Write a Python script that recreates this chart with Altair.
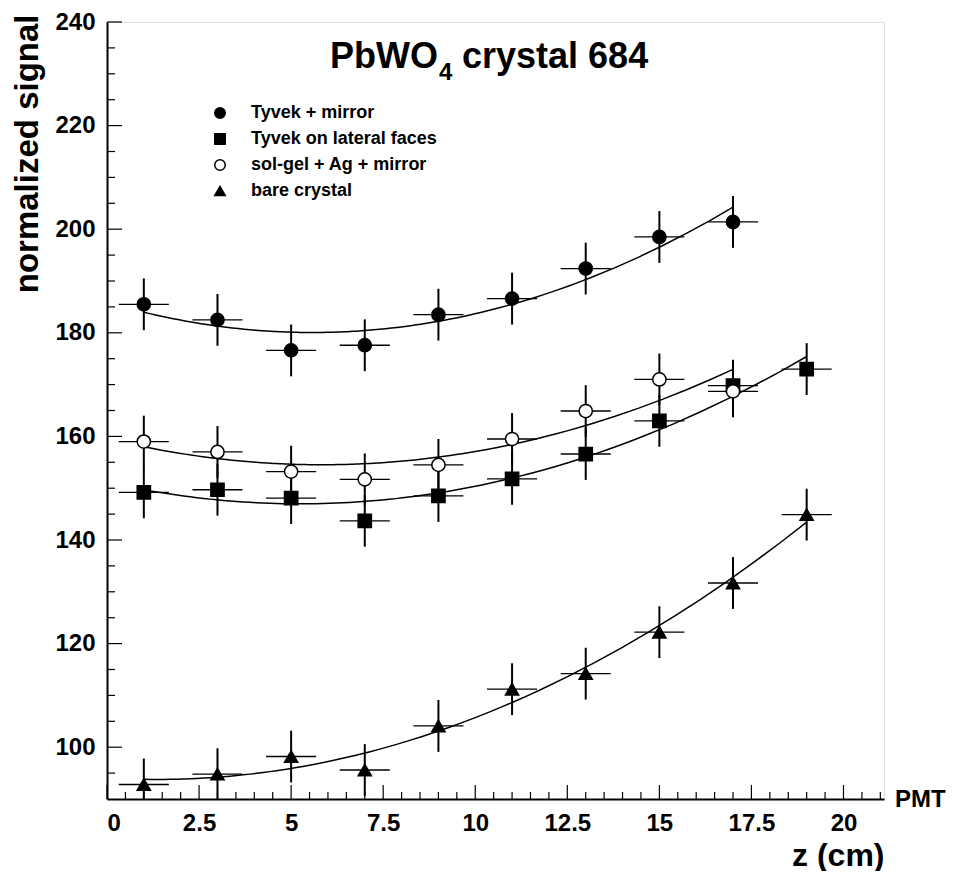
import altair as alt
import pandas as pd

# ---------------- data ----------------
SERIES = ["Tyvek + mirror", "Tyvek on lateral faces", "sol-gel + Ag + mirror", "bare crystal"]
SHAPES = ["circle", "square", "circle", "triangle-up"]
FILLS = ["black", "black", "white", "black"]

z_tm = [1, 3, 5, 7, 9, 11, 13, 15, 17]
s_tm = [185.5, 182.5, 176.6, 177.6, 183.5, 186.6, 192.4, 198.5, 201.4]
e_tm = [5, 5, 5, 5, 5, 5, 5, 5, 5]

z_tl = [1, 3, 5, 7, 9, 11, 13, 15, 17, 19]
s_tl = [149.2, 149.7, 148.1, 143.7, 148.5, 151.8, 156.6, 163.0, 169.8, 173.0]
e_tl = [5, 5, 5, 5, 5, 5, 5, 5, 5, 5]

z_sg = [1, 3, 5, 7, 9, 11, 13, 15, 17]
s_sg = [159.0, 157.0, 153.2, 151.7, 154.5, 159.5, 164.9, 171.0, 168.7]
e_sg = [5, 5, 5, 5, 5, 5, 5, 5, 5]

z_bc = [1, 3, 5, 7, 9, 11, 13, 15, 17, 19]
s_bc = [92.8, 94.8, 98.2, 95.6, 104.1, 111.2, 114.2, 122.2, 131.7, 144.9]
e_bc = [5, 5, 5, 5, 5, 5, 5, 5, 5, 5]

X_HALF = 0.68          # horizontal error bar half width (cm)
FIT_EXTENT = [[1, 17], [1, 19], [1, 17], [1, 19]]

X_MAJOR = [0, 2.5, 5, 7.5, 10, 12.5, 15, 17.5, 20]
Y_MAJOR = [100, 120, 140, 160, 180, 200, 220, 240]

# ---------------- table ----------------
rows = []
for name, zs, ss, es in zip(SERIES, [z_tm, z_tl, z_sg, z_bc], [s_tm, s_tl, s_sg, s_bc],
                            [e_tm, e_tl, e_sg, e_bc]):
    for z, s, e in zip(zs, ss, es):
        rows.append(dict(series=name, z=z, signal=s, lo=s - e, hi=s + e,
                         xlo=z - X_HALF, xhi=z + X_HALF))
df = pd.DataFrame(rows)

x_minor = [i * 0.5 for i in range(1, 43) if (i * 0.5) not in X_MAJOR]
y_minor = [v for v in range(95, 240, 5) if v not in Y_MAJOR]
xt_major = pd.DataFrame({"v": X_MAJOR})
xt_minor = pd.DataFrame({"v": x_minor})
yt_major = pd.DataFrame({"v": Y_MAJOR})
yt_minor = pd.DataFrame({"v": y_minor})

W, H = 777, 777
FONT = "Liberation Sans"

xs = alt.Scale(domain=[0, 21.1], nice=False, zero=False)
ys = alt.Scale(domain=[90, 240], nice=False, zero=False)

x_axis = alt.Axis(values=X_MAJOR, format=".1~f", ticks=False, tickSize=0, grid=False,
                  labelFont=FONT, labelFontSize=24, labelFontWeight="bold", labelColor="black",
                  labelPadding=12, domainColor="black", domainWidth=2,
                  title="z (cm)", titleFont=FONT, titleFontSize=32, titleFontWeight="bold",
                  titleColor="black", titleAnchor="end", titleAlign="right",
                  titleX=W, titleY=56, titleBaseline="middle")
y_axis = alt.Axis(values=Y_MAJOR, ticks=False, tickSize=0, grid=False,
                  labelFont=FONT, labelFontSize=24, labelFontWeight="bold", labelColor="black",
                  labelPadding=12, domainColor="black", domainWidth=2,
                  title="normalized signal", titleFont=FONT, titleFontSize=33,
                  titleFontWeight="bold", titleColor="black", titleAngle=270,
                  titleAlign="right", titleBaseline="alphabetic", titleX=-70, titleY=-8)

base = alt.Chart(df)

vbars = base.mark_rule(color="black", strokeWidth=2, clip=True).encode(
    x=alt.X("z:Q", scale=xs, axis=x_axis),
    y=alt.Y("lo:Q", scale=ys, axis=y_axis),
    y2="hi:Q",
)
hbars = base.mark_rule(color="black", strokeWidth=1.3, clip=True).encode(
    x=alt.X("xlo:Q", scale=xs, axis=x_axis),
    x2="xhi:Q",
    y=alt.Y("signal:Q", scale=ys, axis=y_axis),
)

fits = []
for name, ext in zip(SERIES, FIT_EXTENT):
    fits.append(
        base.transform_filter(alt.datum.series == name)
        .transform_regression("z", "signal", method="poly", order=2, extent=ext)
        .mark_line(color="black", strokeWidth=1.5, clip=True)
        .encode(x=alt.X("z:Q", scale=xs, axis=x_axis),
                y=alt.Y("signal:Q", scale=ys, axis=y_axis))
    )

legend = alt.Legend(title=None, orient="none", legendX=104, legendY=82,
                    labelFont=FONT, labelFontSize=18, labelFontWeight="bold",
                    labelColor="black", labelOffset=22, labelLimit=500, symbolSize=110,
                    symbolStrokeColor="black", symbolStrokeWidth=1.5, rowPadding=8,
                    padding=0)

points = base.mark_point(filled=True, size=175, stroke="black", strokeWidth=1.5,
                         opacity=1).encode(
    x=alt.X("z:Q", scale=xs, axis=x_axis),
    y=alt.Y("signal:Q", scale=ys, axis=y_axis),
    shape=alt.Shape("series:N", scale=alt.Scale(domain=SERIES, range=SHAPES), legend=legend),
    fill=alt.Fill("series:N", scale=alt.Scale(domain=SERIES, range=FILLS), legend=legend),
    stroke=alt.Stroke("series:N", scale=alt.Scale(domain=SERIES, range=["black"] * 4),
                      legend=legend),
)

xticks_major = alt.Chart(xt_major).mark_rule(color="black", strokeWidth=1.2).encode(
    x=alt.X("v:Q", scale=xs, axis=x_axis), y=alt.value(H), y2=alt.value(H - 14))
xticks_minor = alt.Chart(xt_minor).mark_rule(color="black", strokeWidth=1.2).encode(
    x=alt.X("v:Q", scale=xs, axis=x_axis), y=alt.value(H), y2=alt.value(H - 7))
yticks_major = alt.Chart(yt_major).mark_rule(color="black", strokeWidth=1.2).encode(
    y=alt.Y("v:Q", scale=ys, axis=y_axis), x=alt.value(0), x2=alt.value(15))
yticks_minor = alt.Chart(yt_minor).mark_rule(color="black", strokeWidth=1.2).encode(
    y=alt.Y("v:Q", scale=ys, axis=y_axis), x=alt.value(0), x2=alt.value(8))


def label(text, x, y, size, align="left", baseline="alphabetic"):
    return alt.Chart(pd.DataFrame({"t": [text]})).mark_text(
        font=FONT, fontSize=size, fontWeight="bold", color="black",
        align=align, baseline=baseline).encode(
        text="t:N", x=alt.value(x), y=alt.value(y))


title_parts = [
    label("PbWO", 223, 46, 36),
    label("4", 332, 58, 24),
    label("crystal 684", 355, 46, 36),
    label("PMT", 788, H + 1, 24, baseline="middle"),
]

chart = alt.layer(
    vbars, hbars, *fits, points,
    xticks_major, xticks_minor, yticks_major, yticks_minor,
    *title_parts,
).properties(
    width=W, height=H,
    autosize=alt.AutoSizeParams(type="none"),
    padding={"left": 99, "top": 14, "right": 62, "bottom": 72},
).configure_view(stroke="black", strokeWidth=1.5).configure(background="white")

chart.save("out.html", embed_options={"renderer": "svg", "actions": False})
